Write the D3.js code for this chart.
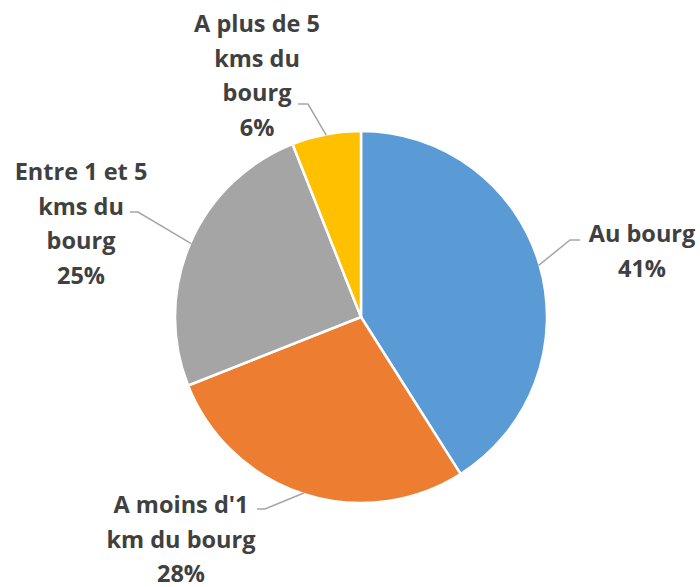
<!DOCTYPE html>
<html>
<head>
<meta charset="utf-8">
<script src="https://cdn.jsdelivr.net/npm/d3@7"></script>
<style>
  body { margin: 0; background: #fff; }
  svg { display: block; }
</style>
</head>
<body>
<svg id="chart"></svg>
<script>
// data
const categories = ["Au bourg", "A moins d'1 km du bourg", "Entre 1 et 5 kms du bourg", "A plus de 5 kms du bourg"];
const values = [41, 28, 25, 6];
const labelLines = [
  ["Au bourg"],
  ["A moins d'1", "km du bourg"],
  ["Entre 1 et 5", "kms du", "bourg"],
  ["A plus de 5", "kms du", "bourg"]
];
const colors = ["#5B9BD5", "#ED7D31", "#A5A5A5", "#FFC000"];

const width = 700, height = 587;
const cx = 361, cy = 317, radius = 186;
const lineHeight = 34.5;

// label placement (relative to pie centre): text centre x, first baseline y,
// leader elbow and leader end
const labelLayout = [
  {tx: 281,  ty: -75,  elbow: [209, -77],  end: [219, -77]},
  {tx: -180, ty: 196,  elbow: [-96, 192],  end: [-104, 192]},
  {tx: -280, ty: -137, elbow: [-223, -105], end: [-231, -105]},
  {tx: -104, ty: -285, elbow: [-53, -213], end: [-63, -213]}
];

const svg = d3.select("#chart")
  .attr("width", width)
  .attr("height", height);

const g = svg.append("g").attr("transform", `translate(${cx},${cy})`);

const total = d3.sum(values);
const pct = d3.format(".0%");

const pie = d3.pie().sort(null).value(d => d.value);
const arcs = pie(categories.map((c, i) => ({name: c, value: values[i], i: i})));

const arc = d3.arc().innerRadius(0).outerRadius(radius);
const edge = d3.arc().innerRadius(radius - 1).outerRadius(radius - 1);

g.selectAll("path.slice")
  .data(arcs)
  .join("path")
  .attr("class", "slice")
  .attr("d", arc)
  .attr("fill", d => colors[d.data.i])
  .attr("stroke", "#fff")
  .attr("stroke-width", 2.5)
  .attr("stroke-linejoin", "round");

// leader lines
g.selectAll("polyline.leader")
  .data(arcs)
  .join("polyline")
  .attr("class", "leader")
  .attr("points", d => {
    const L = labelLayout[d.data.i];
    return [edge.centroid(d), L.elbow, L.end].map(p => p.join(",")).join(" ");
  })
  .attr("fill", "none")
  .attr("stroke", "#A6A6A6")
  .attr("stroke-width", 1.5);

// labels
const labels = g.selectAll("text.lbl")
  .data(arcs)
  .join("text")
  .attr("class", "lbl")
  .attr("text-anchor", "middle")
  .attr("font-family", "'Open Sans', sans-serif")
  .attr("font-weight", 700)
  .attr("font-size", 23.5)
  .attr("fill", "#404040");

labels.each(function(d) {
  const L = labelLayout[d.data.i];
  const lines = labelLines[d.data.i].concat([pct(d.data.value / total)]);
  d3.select(this).selectAll("tspan")
    .data(lines)
    .join("tspan")
    .attr("x", L.tx)
    .attr("y", (t, k) => L.ty + k * lineHeight)
    .text(t => t);
});
</script>
</body>
</html>
